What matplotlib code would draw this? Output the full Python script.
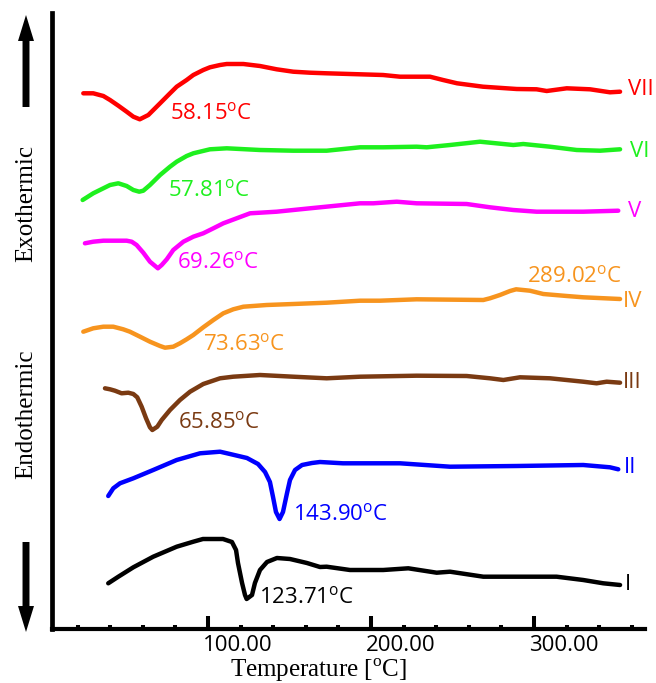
import matplotlib
matplotlib.use("Agg")
import matplotlib.pyplot as plt
from matplotlib.patches import FancyArrowPatch, ArrowStyle

plt.rcParams["mathtext.fontset"] = "custom"
plt.rcParams["mathtext.rm"] = "Liberation Serif"
plt.rcParams["mathtext.sf"] = "Open Sans"

# ---- DSC thermograms (temperature in degC, heat flow in a.u., stacked) ----
t_vii = [23.5, 29.6, 35.8, 39.9, 45.0, 50.1, 54.2, 58.15, 63.4, 70.6, 76.7, 80.8, 86.9, 91.0,
         97.1, 101.2, 107.4, 111.5, 121.7, 131.9, 142.1, 152.3, 162.6, 172.8, 187.1, 207.4,
         217.8, 236.2, 244.2, 252.8, 268.7, 289.4, 301.6, 307.8, 320.1, 334.4, 346.6, 352.8]
hf_vii = [536.7, 536.7, 534.0, 530.0, 524.3, 518.3, 513.3, 510.7, 515.0, 526.7, 536.7, 543.3,
          550.0, 555.0, 560.0, 562.7, 565.0, 566.0, 566.0, 564.0, 560.7, 558.3, 557.3, 556.7,
          556.0, 555.0, 553.3, 553.3, 550.0, 546.7, 543.3, 541.0, 540.7, 539.0, 541.7, 540.7,
          537.7, 538.3]

t_vi = [23.1, 29.6, 35.8, 39.9, 45.0, 50.1, 54.2, 57.81, 60.3, 64.4, 70.6, 76.7, 80.8, 86.9,
        91.0, 101.2, 111.5, 131.9, 152.3, 172.8, 193.3, 207.5, 228.0, 234.2, 248.5, 266.9,
        287.3, 293.4, 309.8, 326.2, 340.5, 352.8]
hf_vi = [430.0, 436.7, 441.7, 445.0, 446.7, 444.0, 440.0, 438.3, 439.3, 445.0, 455.0, 463.3,
         468.3, 474.0, 476.7, 480.7, 481.7, 480.0, 479.3, 479.3, 482.7, 482.7, 483.3, 482.7,
         485.0, 488.3, 485.0, 486.0, 483.3, 480.0, 479.3, 480.7]

t_v = [24.5, 29.6, 35.8, 50.1, 53.2, 56.2, 60.3, 64.4, 69.26, 71.6, 74.7, 78.7, 84.9, 91.0,
       97.1, 103.3, 109.4, 117.6, 125.8, 142.1, 162.6, 193.3, 201.4, 215.8, 228.0, 258.7,
       273.0, 287.3, 301.6, 330.2, 351.7]
hf_v = [386.7, 388.3, 389.3, 389.3, 388.3, 385.0, 377.3, 368.3, 361.7, 365.0, 370.7, 380.0,
        388.3, 393.3, 396.7, 401.7, 406.7, 411.7, 416.7, 418.3, 421.7, 426.7, 426.7, 428.3,
        426.7, 426.0, 422.7, 420.0, 418.3, 418.3, 419.3]

t_iv = [23.5, 29.6, 35.8, 41.9, 48.0, 52.1, 58.3, 64.4, 70.6, 73.63, 78.7, 82.8, 86.9, 91.0,
        97.1, 103.3, 109.4, 115.5, 121.7, 136.0, 152.3, 172.8, 193.3, 205.5, 228.0, 268.9,
        273.0, 279.1, 285.3, 289.02, 297.5, 305.7, 320.1, 330.2, 352.8]
hf_iv = [298.3, 301.7, 303.3, 303.3, 300.7, 298.3, 293.3, 288.3, 284.0, 282.3, 283.3, 286.7,
         290.7, 295.0, 302.7, 310.0, 316.7, 320.7, 323.3, 325.0, 326.0, 327.3, 329.3, 329.3,
         330.7, 330.0, 331.7, 335.0, 339.0, 340.7, 339.3, 336.0, 334.0, 332.7, 331.0]

t_iii = [36.8, 39.9, 42.9, 47.0, 51.1, 54.2, 56.6, 59.3, 62.0, 64.4, 65.85, 68.9, 71.6, 76.7,
         82.8, 89.0, 97.1, 107.4, 115.5, 131.9, 152.3, 172.8, 193.3, 228.0, 258.7, 273.0,
         281.2, 291.4, 309.8, 330.2, 338.4, 344.6, 352.8]
hf_iii = [241.7, 240.7, 239.3, 236.7, 237.3, 236.0, 232.7, 223.3, 211.7, 202.7, 200.0, 203.3,
          210.0, 220.0, 230.0, 238.3, 246.0, 251.7, 253.3, 255.0, 253.3, 251.7, 253.3, 254.3,
          254.0, 251.7, 250.0, 252.7, 251.7, 248.3, 246.7, 248.3, 247.3]

t_ii = [38.8, 41.9, 46.0, 54.2, 66.4, 80.8, 95.1, 107.4, 113.5, 123.9, 130.7, 135.0, 138.0,
        139.9, 141.7, 143.90, 146.0, 148.5, 150.3, 153.4, 157.7, 163.8, 168.7, 182.8, 217.8,
        248.5, 289.4, 330.2, 346.6, 351.7]
hf_ii = [134.0, 141.7, 146.7, 151.7, 160.0, 170.0, 176.7, 178.3, 176.0, 172.0, 166.0, 158.0,
         148.0, 133.0, 118.0, 111.0, 118.0, 137.0, 150.0, 160.0, 165.0, 167.0, 168.0, 166.7,
         166.7, 163.3, 164.0, 165.0, 162.7, 160.7]

t_i = [38.8, 45.0, 54.2, 66.4, 80.8, 91.0, 96.9, 109.2, 114.7, 117.2, 118.4, 120.9, 122.7,
       123.71, 127.0, 128.8, 131.9, 136.2, 142.3, 150.3, 160.7, 168.7, 172.8, 187.1, 207.5,
       222.9, 240.3, 248.5, 268.9, 313.9, 330.2, 342.5, 352.8]
hf_i = [46.7, 53.3, 62.7, 73.3, 83.3, 88.3, 91.0, 91.0, 88.0, 80.0, 67.0, 47.0, 35.0,
        31.0, 35.0, 47.0, 60.0, 68.0, 72.0, 71.0, 67.0, 63.0, 63.3, 60.0, 60.0,
        61.7, 57.3, 58.3, 53.3, 53.3, 50.0, 46.7, 45.0]

series_names = ["VII", "VI", "V", "IV", "III", "II", "I"]
series_t = [t_vii, t_vi, t_v, t_iv, t_iii, t_ii, t_i]
series_hf = [hf_vii, hf_vi, hf_v, hf_iv, hf_iii, hf_ii, hf_i]
colors = ["#ff0000", "#1ef01e", "#ff00ff", "#f7941e", "#7a3a12", "#0000ff", "#000000"]

# peak temperatures written next to the curves: (series index, text, x, baseline)
peaks = [(0, "58.15", 76.7, 511), (1, "57.81", 75.5, 434), (2, "69.26", 81.0, 362),
         (3, "73.63", 96.9, 280), (3, "289.02", 295.7, 348), (4, "65.85", 81.6, 202),
         (5, "143.90", 152.1, 110), (6, "123.71", 131.3, 27)]
name_pos = [(357.7, 535), (358.9, 473), (357.7, 413), (354.6, 323), (354.6, 242),
            (355.2, 157), (355.8, 40)]

major_ticks = [100, 200, 300]
minor_ticks = [20, 40, 60, 80, 120, 140, 160, 180, 220, 240, 260, 280, 320, 340, 360]
tick_labels = ["100.00", "200.00", "300.00"]

W, H = 656, 683
fig = plt.figure(figsize=(W / 100, H / 100), dpi=100)
fig.patch.set_facecolor("white")
ax = fig.add_axes([52 / W, 1 - 629 / H, (645 - 52) / W, (629 - 13) / H])

for t, hf, c in zip(series_t, series_hf, colors):
    ax.plot(t, hf, color=c, lw=3.2, solid_joinstyle="round", solid_capstyle="round")

label_font = dict(family="Open Sans", fontsize=16)
for idx, val, lx, ly in peaks:
    ax.text(lx, ly, val + r"$^{\mathsf{o}}$C", color=colors[idx], ha="left", va="baseline",
            **label_font)
for name, (nx, ny), c in zip(series_names, name_pos, colors):
    ax.text(nx, ny, name, color=c, ha="left", va="baseline", **label_font)

ax.set_xlim(4.3, 368.1)
ax.set_ylim(1, 617)
for s in ["top", "right"]:
    ax.spines[s].set_visible(False)
ax.spines["left"].set_linewidth(3.4)
ax.spines["bottom"].set_linewidth(3.0)
ax.set_yticks([])
ax.set_xticks(major_ticks)
ax.set_xticks(minor_ticks, minor=True)
ax.tick_params(axis="x", which="major", direction="in", length=9.4, width=2.9,
               labelbottom=False)
ax.tick_params(axis="x", which="minor", direction="in", length=3, width=2.9)

for t, lab in zip(major_ticks, tick_labels):
    ax.annotate(lab, xy=(t, 0), xycoords=("data", "axes fraction"), xytext=(-3.6, -12.2),
                textcoords="offset points", ha="left", va="center", **label_font)

fig.text(319 / W, 1 - 677 / H, r"Temperature [$^{\mathrm{o}}$C]", family="Liberation Serif",
         fontsize=18, ha="center", va="baseline")
fig.text(26 / W, 1 - 203 / H, "Exothermic", family="Liberation Serif", fontsize=18,
         rotation=90, ha="center", va="center")
fig.text(26 / W, 1 - 414 / H, "Endothermic", family="Liberation Serif", fontsize=18,
         rotation=90, ha="center", va="center")

style = ArrowStyle.Simple(head_length=18.7, head_width=11.5, tail_width=5.0)
for y0, y1 in [(107, 15), (542, 632)]:
    arr = FancyArrowPatch((26 / W, 1 - y0 / H), (26 / W, 1 - y1 / H), transform=fig.transFigure,
                          arrowstyle=style, mutation_scale=1, color="black", lw=0,
                          shrinkA=0, shrinkB=0)
    fig.patches.append(arr)

fig.savefig("out.png", dpi=100, facecolor="white")
